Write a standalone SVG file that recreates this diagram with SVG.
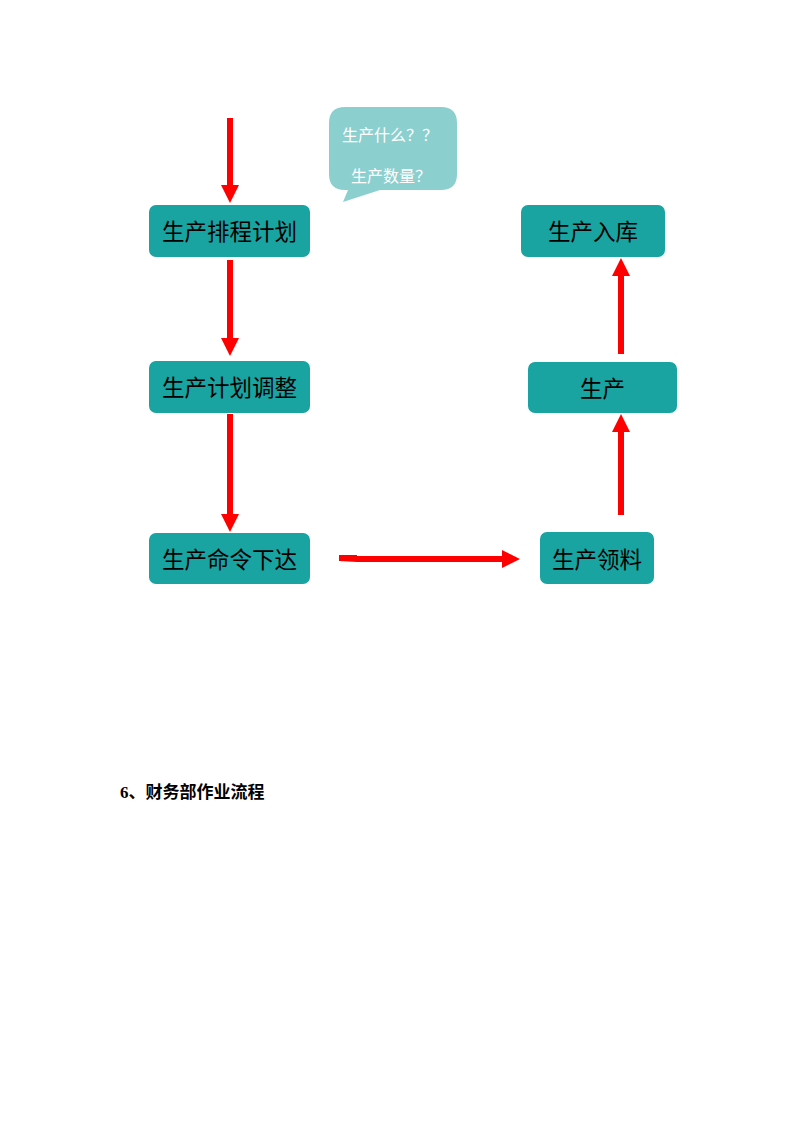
<svg xmlns="http://www.w3.org/2000/svg" width="794" height="1123" viewBox="0 0 794 1123">
<style>
.box{fill:#19a3a1}
.t{font-family:"Liberation Sans","Noto Sans CJK SC",sans-serif;font-size:22.5px;fill:#000;text-anchor:middle;dominant-baseline:central}
.ct{font-family:"Noto Sans CJK SC",sans-serif;font-size:16px;fill:#fff;text-anchor:middle;dominant-baseline:central}
.ar{fill:#ff0000}
.h{font-family:"Liberation Serif","Noto Sans CJK SC",serif;font-size:17px;font-weight:bold;fill:#000}
</style>
<rect width="794" height="1123" fill="#fff"/>
<g id="connectors">
<polygon class="ar" points="227,118 233,118 233,185 239,185 230,203 221,185 227,185"/>
<polygon class="ar" points="227,260 233,260 233,338 239,338 230,356 221,338 227,338"/>
<polygon class="ar" points="227,414 233,414 233,514 239,514 230,532 221,514 227,514"/>
<polygon class="ar" points="339,555 357,555 357,556 502,556 502,550 520,559 502,568 502,562 357,562 339,561"/>
<polygon class="ar" points="618,354 624,354 624,276 630,276 621,258 612,276 618,276"/>
<polygon class="ar" points="618,515 624,515 624,432 630,432 621,414 612,432 618,432"/>
</g>
<g id="callout">
<path d="M345,107 H441 Q457,107 457,123 V174 Q457,190 441,190 H380 L343,202 L348,190 H345 Q329,190 329,174 V123 Q329,107 345,107 Z" fill="#8ccfcf"/>
<text class="ct" x="390" y="134">生产什么？？</text>
<text class="ct" x="391" y="175">生产数量？</text>
</g>
<g id="n1"><rect class="box" x="149" y="205" width="161" height="52" rx="7"/><text class="t" x="229.5" y="232">生产排程计划</text></g>
<g id="n2"><rect class="box" x="149" y="361" width="161" height="52" rx="7"/><text class="t" x="229.5" y="388">生产计划调整</text></g>
<g id="n3"><rect class="box" x="149" y="533" width="161" height="51" rx="7"/><text class="t" x="229.5" y="560">生产命令下达</text></g>
<g id="n4"><rect class="box" x="540" y="532" width="114" height="52" rx="7"/><text class="t" x="597" y="560">生产领料</text></g>
<g id="n5"><rect class="box" x="528" y="362" width="149" height="51" rx="7"/><text class="t" x="602.5" y="389">生产</text></g>
<g id="n6"><rect class="box" x="521" y="205" width="144" height="52" rx="7"/><text class="t" x="593" y="232">生产入库</text></g>
<text class="h" x="120" y="798">6、财务部作业流程</text>
</svg>
